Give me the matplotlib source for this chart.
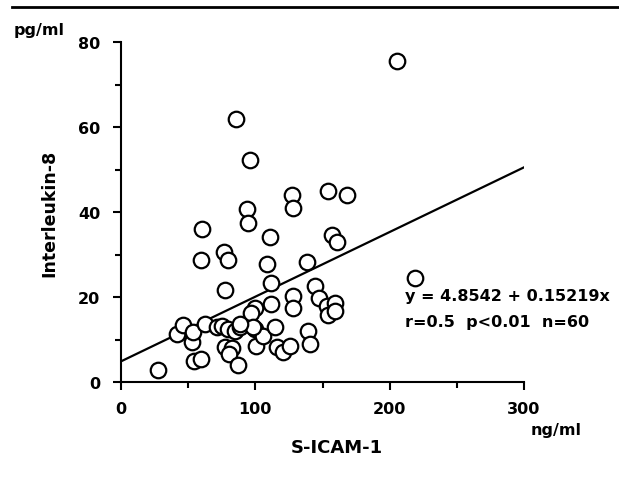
import matplotlib
matplotlib.use('Agg')
import matplotlib.pyplot as plt
from matplotlib.ticker import MultipleLocator

# S-ICAM-1 (ng/ml) vs Interleukin-8 (pg/ml)
sicam = [27.5, 41.7, 46, 53, 53.6, 54, 59.6, 60.3, 59.6, 62.5,
         71.5, 75, 79.7, 85, 88.6, 76.5, 79.7, 77.4, 77.4, 82.6,
         80.5, 87, 93.8, 94.8, 96, 85.6, 111, 108.5, 111.7, 100,
         96.5, 111.5, 99.5, 100.5, 106, 114.7, 116, 120.6, 125.8, 127,
         128, 154, 168, 157, 161, 205.5, 219, 138.5, 144.5, 128,
         128, 147.5, 153.5, 159.3, 154, 159.3, 139, 140.7, 98.3, 88.6]
il8 = [2.8, 11.3, 13.4, 9.3, 11.8, 4.9, 5.4, 36, 28.8, 13.7,
       12.9, 13.2, 12.5, 12, 12.9, 30.5, 28.8, 21.6, 8.2, 8.0,
       6.5, 4.0, 40.8, 37.5, 52.2, 61.8, 34.1, 27.8, 23.2, 17.4,
       16.2, 18.4, 12.5, 8.5, 10.8, 12.9, 8.2, 7.0, 8.5, 44.0,
       40.9, 44.9, 44.1, 34.5, 33, 75.5, 24.5, 28.2, 22.6, 20.2,
       17.5, 19.7, 17.8, 18.6, 15.8, 16.6, 12, 9.0, 12.9, 13.6]

intercept = 4.8542
slope = 0.15219
fit_x = [0, 300]

plt.rcParams['font.family'] = ['DejaVu Sans']
plt.rcParams['font.weight'] = 'bold'

W, H = 619, 481
fig = plt.figure(figsize=(W / 100, H / 100), dpi=100)
ax = fig.add_axes([121 / W, 1 - 383 / H, 403 / W, 340 / H])

ax.scatter(sicam, il8, s=125, facecolors='white', edgecolors='black',
           linewidths=1.6, zorder=3, clip_on=False)
ax.plot(fit_x, [intercept + slope * x for x in fit_x], color='black', lw=1.6, zorder=2)

ax.set_xlim(0, 300)
ax.set_ylim(0, 80)
ax.xaxis.set_major_locator(MultipleLocator(100))
ax.xaxis.set_minor_locator(MultipleLocator(50))
ax.yaxis.set_major_locator(MultipleLocator(20))
ax.yaxis.set_minor_locator(MultipleLocator(10))
for s in ['top', 'right']:
    ax.spines[s].set_visible(False)
for s in ['left', 'bottom']:
    ax.spines[s].set_linewidth(1.5)
ax.tick_params(which='major', direction='out', length=6, width=1.5, labelsize=11.5)
ax.tick_params(axis='x', which='major', pad=8)
ax.tick_params(axis='y', which='major', pad=9)
ax.tick_params(which='minor', direction='out', length=4, width=1.5)
for lab in ax.get_xticklabels() + ax.get_yticklabels():
    lab.set_fontweight('bold')

ax.set_ylabel('Interleukin-8', fontsize=12.5, fontweight='bold', labelpad=14)
fig.text(337 / W, 1 - 448 / H, 'S-ICAM-1', fontsize=13, fontweight='bold', va='center', ha='center')

fig.text(14 / W, 1 - 30 / H, 'pg/ml', fontsize=11.5, fontweight='bold', va='center', ha='left')
fig.text(531 / W, 1 - 430 / H, 'ng/ml', fontsize=11.5, fontweight='bold', va='center', ha='left')
fig.text(405 / W, 1 - 296 / H, 'y = 4.8542 + 0.15219x', fontsize=11.5, fontweight='bold',
         va='center', ha='left')
fig.text(405 / W, 1 - 322 / H, 'r=0.5  p<0.01  n=60', fontsize=11.5, fontweight='bold',
         va='center', ha='left')

# rule across the top of the page
fig.add_artist(plt.Line2D([12 / W, 1], [1 - 8 / H, 1 - 8 / H], color='black', lw=2,
                          transform=fig.transFigure))

fig.savefig('out.png', dpi=100)
